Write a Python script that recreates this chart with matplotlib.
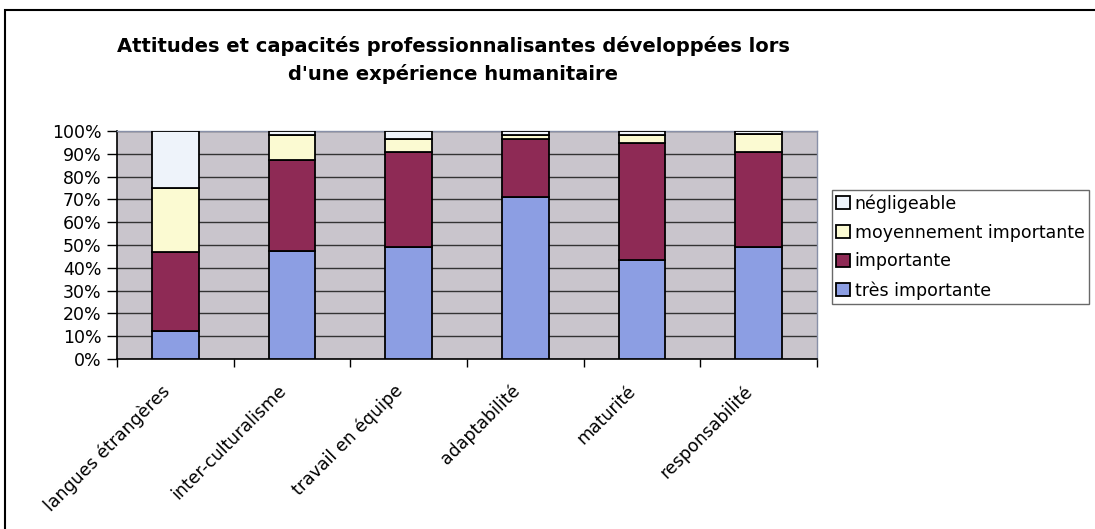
import matplotlib
matplotlib.use("Agg")
import matplotlib.pyplot as plt
from matplotlib.patches import Rectangle
from matplotlib.ticker import FixedLocator, NullFormatter
import matplotlib.transforms as mtransforms
import numpy as np

categories = ["langues étrangères", "inter-culturalisme", "travail en équipe",
              "adaptabilité", "maturité", "responsabilité"]
tres_importante = [12.5, 47.3, 49.2, 71.1, 43.6, 49.2]
importante = [34.5, 40.2, 41.7, 25.5, 51.1, 41.7]
moyennement = [27.8, 10.9, 5.7, 1.5, 3.5, 7.8]
negligeable = [25.2, 1.6, 3.4, 1.9, 1.8, 1.3]
y_ticks = [0, 10, 20, 30, 40, 50, 60, 70, 80, 90, 100]
y_labels = [f"{v}%" for v in y_ticks]
title = "Attitudes et capacités professionnalisantes développées lors\nd'une expérience humanitaire"

series = [
    ("très importante", tres_importante, "#8C9EE3"),
    ("importante", importante, "#8E2A55"),
    ("moyennement importante", moyennement, "#FBFAD2"),
    ("négligeable", negligeable, "#EEF3FA"),
]

plt.rcParams['font.family'] = ['DejaVu Sans']
W, H = 1095, 529
fig = plt.figure(figsize=(W / 100, H / 100), dpi=100)
fig.patch.set_facecolor("white")

# outer chart border (right and bottom edges fall outside the picture)
fig.patches.append(Rectangle((5 / W, -0.1), 1.2, 1.1 - 10 / H, transform=fig.transFigure,
                             fill=False, edgecolor="black", linewidth=1.5))

ax = fig.add_axes([117 / W, 1 - 359 / H, 700 / W, 228 / H])
ax.set_facecolor("#C9C5CC")

x = np.arange(len(categories))
bottom = np.zeros(len(categories))
handles = []
for name, vals, color in series:
    b = ax.bar(x, vals, width=0.4, bottom=bottom, color=color, edgecolor="black",
               linewidth=1.3, label=name, zorder=3)
    handles.append(b)
    bottom += np.array(vals)

ax.set_xlim(-0.5, len(categories) - 0.5)
ax.set_ylim(0, 100)
ax.set_yticks(y_ticks)
ax.set_yticklabels(y_labels, fontsize=12.5)
ax.yaxis.grid(True, color="#333333", linewidth=1.0, zorder=1)
ax.set_axisbelow(True)

ax.set_xticks(x)
ax.set_xticklabels(categories, rotation=45, ha="right", rotation_mode="anchor",
                   fontsize=12.5)
ax.tick_params(axis="x", length=0, pad=12)
offset = mtransforms.ScaledTranslation(-15 / 100, -6 / 100, fig.dpi_scale_trans)
for lbl in ax.get_xticklabels():
    lbl.set_transform(lbl.get_transform() + offset)
ax.xaxis.set_minor_locator(FixedLocator(np.arange(-0.5, len(categories), 1.0)))
ax.xaxis.set_minor_formatter(NullFormatter())
ax.tick_params(axis="x", which="minor", length=6, width=1, color="black")
ax.tick_params(axis="y", length=7, width=1, color="black", pad=4)

for s in ["top", "right"]:
    ax.spines[s].set_color("#8890A8")
    ax.spines[s].set_linewidth(1.0)
for s in ["left", "bottom"]:
    ax.spines[s].set_color("black")
    ax.spines[s].set_linewidth(1.2)

fig.text(453 / W, 1 - 60 / H, title, ha="center", va="center", fontsize=14,
         fontweight="bold", linespacing=1.5)

leg = fig.legend(handles[::-1], [s[0] for s in series][::-1],
                 loc="upper left", bbox_to_anchor=(832 / W, 1 - 190 / H),
                 fontsize=12.5, frameon=True, fancybox=False, edgecolor="#444444",
                 handlelength=0.8, handleheight=0.8, handletextpad=0.25,
                 borderpad=0.25, labelspacing=0.62, borderaxespad=0)
leg.get_frame().set_linewidth(1.0)

fig.savefig("out.png", dpi=100)
